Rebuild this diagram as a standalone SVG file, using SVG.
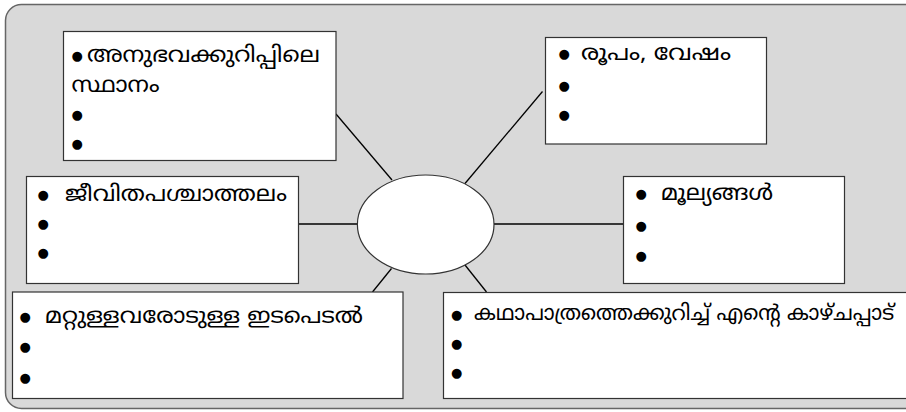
<svg xmlns="http://www.w3.org/2000/svg" width="906" height="412" viewBox="0 0 906 412">
<style>
.box{fill:#ffffff;stroke:#333333;stroke-width:1.2}
.t{font-family:"Noto Sans Malayalam","Noto Sans","DejaVu Sans",sans-serif;font-size:22px;font-weight:400;fill:#000}
.b{font-family:"DejaVu Sans",sans-serif;font-size:13px;fill:#000}
.c{stroke:#000;stroke-width:1.3;fill:none}
</style>
<rect x="5.5" y="4.5" width="920" height="404" rx="16" ry="16" fill="#d9d9d9" stroke="#666666" stroke-width="1.5"/>
<g id="connectors">
<line class="c" x1="336" y1="114" x2="392" y2="180"/>
<line class="c" x1="542.5" y1="91.5" x2="465" y2="183.5"/>
<line class="c" x1="298" y1="224" x2="357.5" y2="224"/>
<line class="c" x1="494" y1="224" x2="623.5" y2="224"/>
<line class="c" x1="391.5" y1="268.5" x2="372.5" y2="292"/>
<line class="c" x1="465" y1="265" x2="486.5" y2="292"/>
</g>
<g id="center">
<ellipse cx="425.7" cy="224.5" rx="68.3" ry="49.5" fill="#fff" stroke="#333" stroke-width="1.2"/>
</g>
<g id="box1">
<rect class="box" x="63.5" y="31.5" width="272.5" height="129"/>
<text class="b" x="71.5" y="59.5">●</text>
<text class="t" x="87" y="62" textLength="233" lengthAdjust="spacingAndGlyphs">അനുഭവക്കുറിപ്പിലെ</text>
<text class="t" x="71.5" y="92" textLength="88" lengthAdjust="spacingAndGlyphs">സ്ഥാനം</text>
<text class="b" x="71.5" y="119">●</text>
<text class="b" x="71.5" y="148">●</text>
</g>
<g id="box2">
<rect class="box" x="545.5" y="37.5" width="221" height="106.5"/>
<text class="b" x="558.5" y="58">●</text>
<text class="t" x="581" y="60" textLength="150" lengthAdjust="spacingAndGlyphs">രൂപം, വേഷം</text>
<text class="b" x="558.5" y="90">●</text>
<text class="b" x="558.5" y="118.5">●</text>
</g>
<g id="box3">
<rect class="box" x="26.5" y="176.5" width="272" height="107"/>
<text class="b" x="37.5" y="199">●</text>
<text class="t" x="65" y="201" textLength="222" lengthAdjust="spacingAndGlyphs">ജീവിതപശ്ചാത്തലം</text>
<text class="b" x="37.5" y="227.5">●</text>
<text class="b" x="37.5" y="257">●</text>
</g>
<g id="box4">
<rect class="box" x="623.5" y="176.5" width="221" height="107"/>
<text class="b" x="635.5" y="198">●</text>
<text class="t" x="661" y="200" textLength="112" lengthAdjust="spacingAndGlyphs">മൂല്യങ്ങൾ</text>
<text class="b" x="635.5" y="229.5">●</text>
<text class="b" x="635.5" y="259.5">●</text>
</g>
<g id="box5">
<rect class="box" x="12.5" y="292" width="390.5" height="106.5"/>
<text class="b" x="19.5" y="321">●</text>
<text class="t" x="45" y="323" textLength="318" lengthAdjust="spacingAndGlyphs">മറ്റുള്ളവരോടുള്ള  ഇടപെടൽ</text>
<text class="b" x="19.5" y="351">●</text>
<text class="b" x="19.5" y="381.5">●</text>
</g>
<g id="box6">
<rect class="box" x="443.5" y="292.5" width="464" height="106"/>
<text class="b" x="451" y="318.5">●</text>
<text class="t" x="474" y="320" style="font-size:21px" textLength="420" lengthAdjust="spacingAndGlyphs">കഥാപാത്രത്തെക്കുറിച്ച് എന്റെ കാഴ്ചപ്പാട്</text>
<text class="b" x="451" y="347.5">●</text>
<text class="b" x="451" y="377">●</text>
</g>
</svg>
